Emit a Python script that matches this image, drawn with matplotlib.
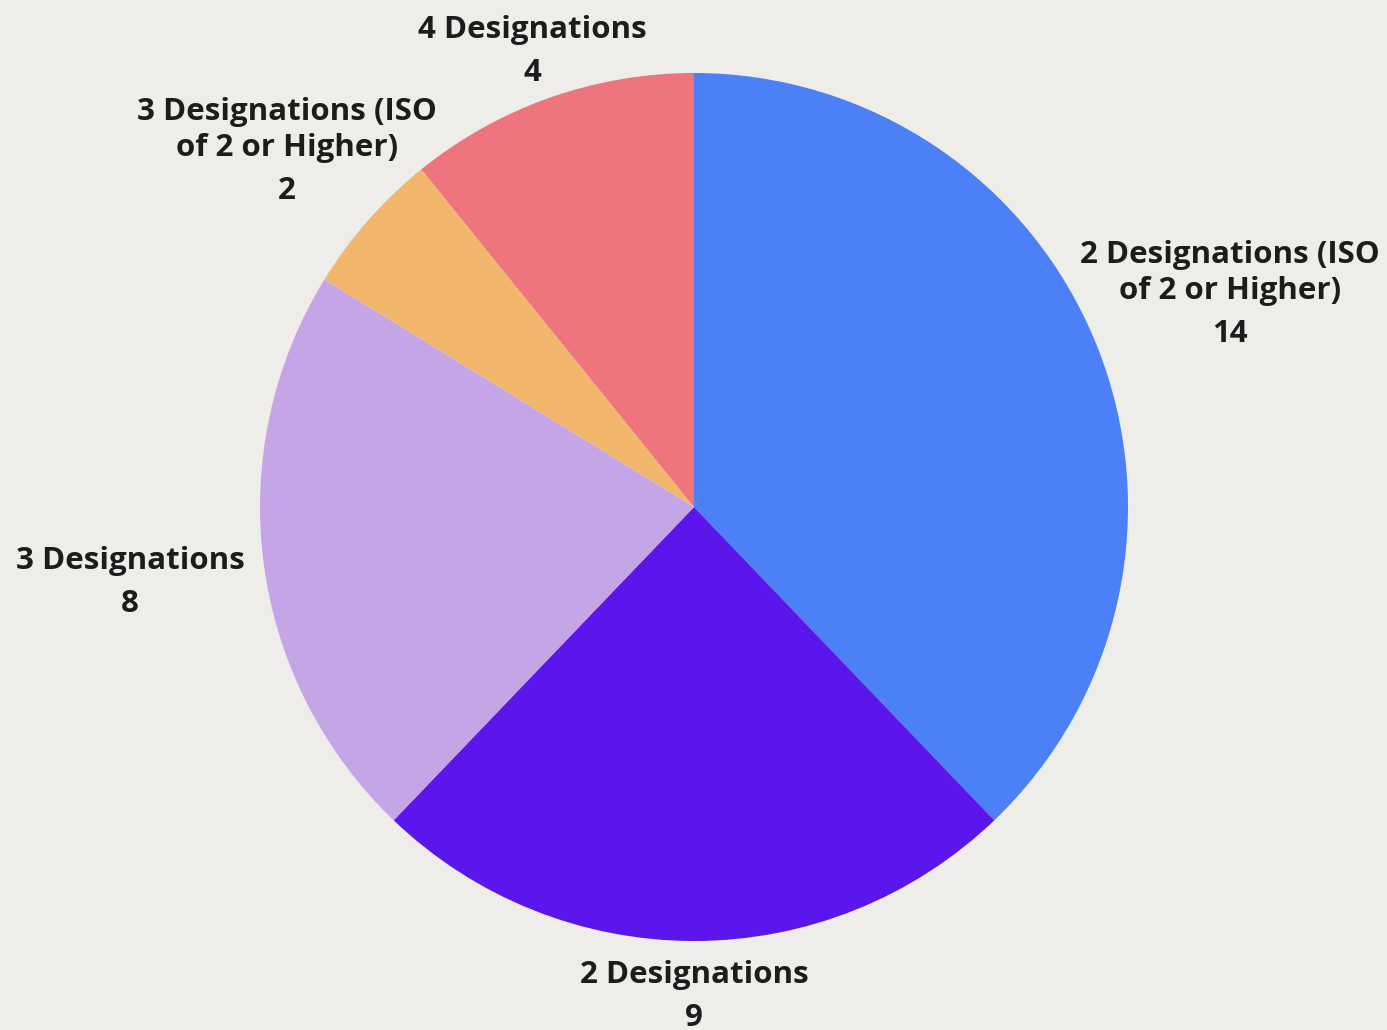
import numpy as np
import matplotlib
matplotlib.use("Agg")
import matplotlib.pyplot as plt

# data
labels = ["2 Designations (ISO\nof 2 or Higher)", "2 Designations", "3 Designations",
          "3 Designations (ISO\nof 2 or Higher)", "4 Designations"]
values = [14, 9, 8, 2, 4]
colors = ["#4b80f7", "#5b17eb", "#c4a6e7", "#f2b76c", "#ee747e"]
label_dist = [1.33, 1.12, 1.31, 1.25, 1.12]

bg = "#efede9"
W, H = 1387, 1030
fig = plt.figure(figsize=(W / 100, H / 100), dpi=100, facecolor=bg)
ax = fig.add_axes([0, 0, 1, 1])
ax.set_facecolor(bg)

cx, cy, r = 694, H - 507, 434
wedges, _ = ax.pie(values, colors=colors, startangle=90, counterclock=False,
                   center=(cx, cy), radius=r, frame=True,
                   wedgeprops=dict(linewidth=0))

txt = dict(ha="center", va="center", fontsize=22.5, fontfamily="Open Sans",
           fontweight="bold", color="#1c1c1c")
gap_name, gap_val = 36, 43

# labels outside each wedge, name lines then value
for w, lab, v, d in zip(wedges, labels, values, label_dist):
    ang = np.deg2rad((w.theta1 + w.theta2) / 2)
    x = cx + d * r * np.cos(ang)
    y = cy + d * r * np.sin(ang) - 3
    lines = lab.split("\n")
    total = (len(lines) - 1) * gap_name + gap_val
    yy = y + total / 2
    for ln in lines:
        ax.text(x, yy, ln, **txt)
        yy -= gap_name
    ax.text(x, yy + gap_name - gap_val, str(v), **txt)

ax.set_xlim(0, W)
ax.set_ylim(0, H)
ax.set_aspect("equal")
ax.axis("off")

fig.savefig("out.png", dpi=100, facecolor=bg)
